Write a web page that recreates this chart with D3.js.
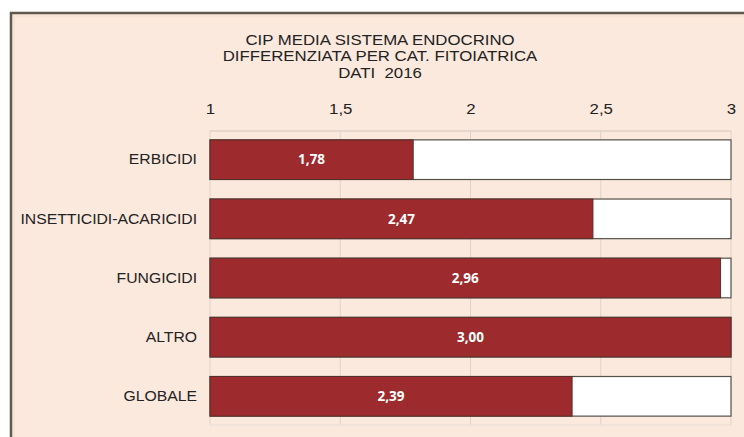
<!DOCTYPE html>
<html lang="it">
<head>
    <meta charset="UTF-8">
    <title>CIP media sistema endocrino 2016</title>
    <script src="https://d3js.org/d3.v7.min.js"></script>
    <style>
        body { margin: 0; background: #ffffff; }
        svg { display: block; }
        .tick text { font-family: Arial, "Liberation Sans", sans-serif; font-size: 15px; fill: #222; }
    </style>
</head>
<body>
    <svg width="744" height="437"></svg>
    <script>
        // dati
        const categories = ["ERBICIDI", "INSETTICIDI-ACARICIDI", "FUNGICIDI", "ALTRO", "GLOBALE"];
        const values = [1.78, 2.47, 2.96, 3.00, 2.39];
        const tickValues = [1, 1.5, 2, 2.5, 3];
        const titleLines = ["CIP MEDIA SISTEMA ENDOCRINO", "DIFFERENZIATA PER CAT. FITOIATRICA", "DATI  2016"];

        const width = 744, height = 437;
        const plotLeft = 210, plotRight = 731, plotTop = 131, plotBottom = 425;
        // il riferimento e' leggermente allargato in orizzontale
        const stretch = "scale(1.12, 1)";
        const stretchY = "scale(1.05, 1)";

        const svg = d3.select("svg");

        // cornice
        svg.append("rect")
            .attr("x", 11).attr("y", 13)
            .attr("width", width + 20).attr("height", height + 20)
            .attr("fill", "#fce9de")
            .attr("stroke", "#5e5a4c")
            .attr("stroke-width", 2.5);
        svg.append("rect")
            .attr("x", 14).attr("y", 16)
            .attr("width", width).attr("height", height)
            .attr("fill", "none")
            .attr("stroke", "#efd9cc")
            .attr("stroke-width", 1);

        // titolo
        svg.append("g")
            .attr("transform", "translate(380, 0) " + stretch)
            .selectAll("text")
            .data(titleLines)
            .join("text")
            .attr("x", 0)
            .attr("y", (d, i) => 45 + i * 16.5)
            .attr("text-anchor", "middle")
            .style("font-family", "Arial, 'Liberation Sans', sans-serif")
            .style("font-size", "15px")
            .style("fill", "#222")
            .style("white-space", "pre")
            .text(d => d);

        const x = d3.scaleLinear().domain([1, 3]).range([plotLeft, plotRight]);
        const y = d3.scaleBand().domain(categories).range([plotTop, plotBottom]).paddingInner(0.33).paddingOuter(0.15);

        // griglia
        svg.append("g").selectAll("line")
            .data(tickValues)
            .join("line")
            .attr("x1", d => x(d)).attr("x2", d => x(d))
            .attr("y1", plotTop).attr("y2", plotBottom)
            .attr("stroke", "#ddd3cc")
            .attr("stroke-width", 1);
        svg.append("line")
            .attr("x1", plotLeft).attr("x2", plotRight)
            .attr("y1", plotTop).attr("y2", plotTop)
            .attr("stroke", "#cfc7c0");
        svg.append("line")
            .attr("x1", plotLeft).attr("x2", plotRight)
            .attr("y1", plotBottom).attr("y2", plotBottom)
            .attr("stroke", "#e6dcd5");

        // asse x in alto
        const fmt = d => String(d).replace(".", ",");
        const xAxis = svg.append("g")
            .attr("transform", `translate(0, ${plotTop - 17})`)
            .call(d3.axisTop(x).tickValues(tickValues).tickFormat(fmt).tickSize(0).tickPadding(0));
        xAxis.select(".domain").remove();
        xAxis.selectAll(".tick text").attr("transform", stretch);

        // asse y
        const yAxis = svg.append("g")
            .attr("transform", `translate(${plotLeft - 13}, 0)`)
            .call(d3.axisLeft(y).tickSize(0).tickPadding(0));
        yAxis.select(".domain").remove();
        yAxis.selectAll(".tick text").attr("transform", stretchY);

        // sfondo barre (massimo)
        svg.append("g").selectAll("rect")
            .data(categories)
            .join("rect")
            .attr("x", x(1))
            .attr("y", d => y(d))
            .attr("width", x(3) - x(1))
            .attr("height", y.bandwidth())
            .attr("fill", "#ffffff")
            .attr("stroke", "#55504a")
            .attr("stroke-width", 1.2);

        // barre
        svg.append("g").selectAll("rect")
            .data(values)
            .join("rect")
            .attr("x", x(1))
            .attr("y", (d, i) => y(categories[i]))
            .attr("width", d => x(d) - x(1))
            .attr("height", y.bandwidth())
            .attr("fill", "#9d2a2c")
            .attr("stroke", "#55302c")
            .attr("stroke-width", 1);

        // etichette valori
        svg.append("g").selectAll("text")
            .data(values)
            .join("text")
            .attr("x", d => (x(1) + x(d)) / 2)
            .attr("y", (d, i) => y(categories[i]) + y.bandwidth() / 2)
            .attr("dy", "0.35em")
            .attr("text-anchor", "middle")
            .style("font-family", "'Open Sans', 'DejaVu Sans', sans-serif")
            .style("font-weight", "bold")
            .style("font-size", "13.5px")
            .style("fill", "#ffffff")
            .text(d => d.toFixed(2).replace(".", ","));
    </script>
</body>
</html>
